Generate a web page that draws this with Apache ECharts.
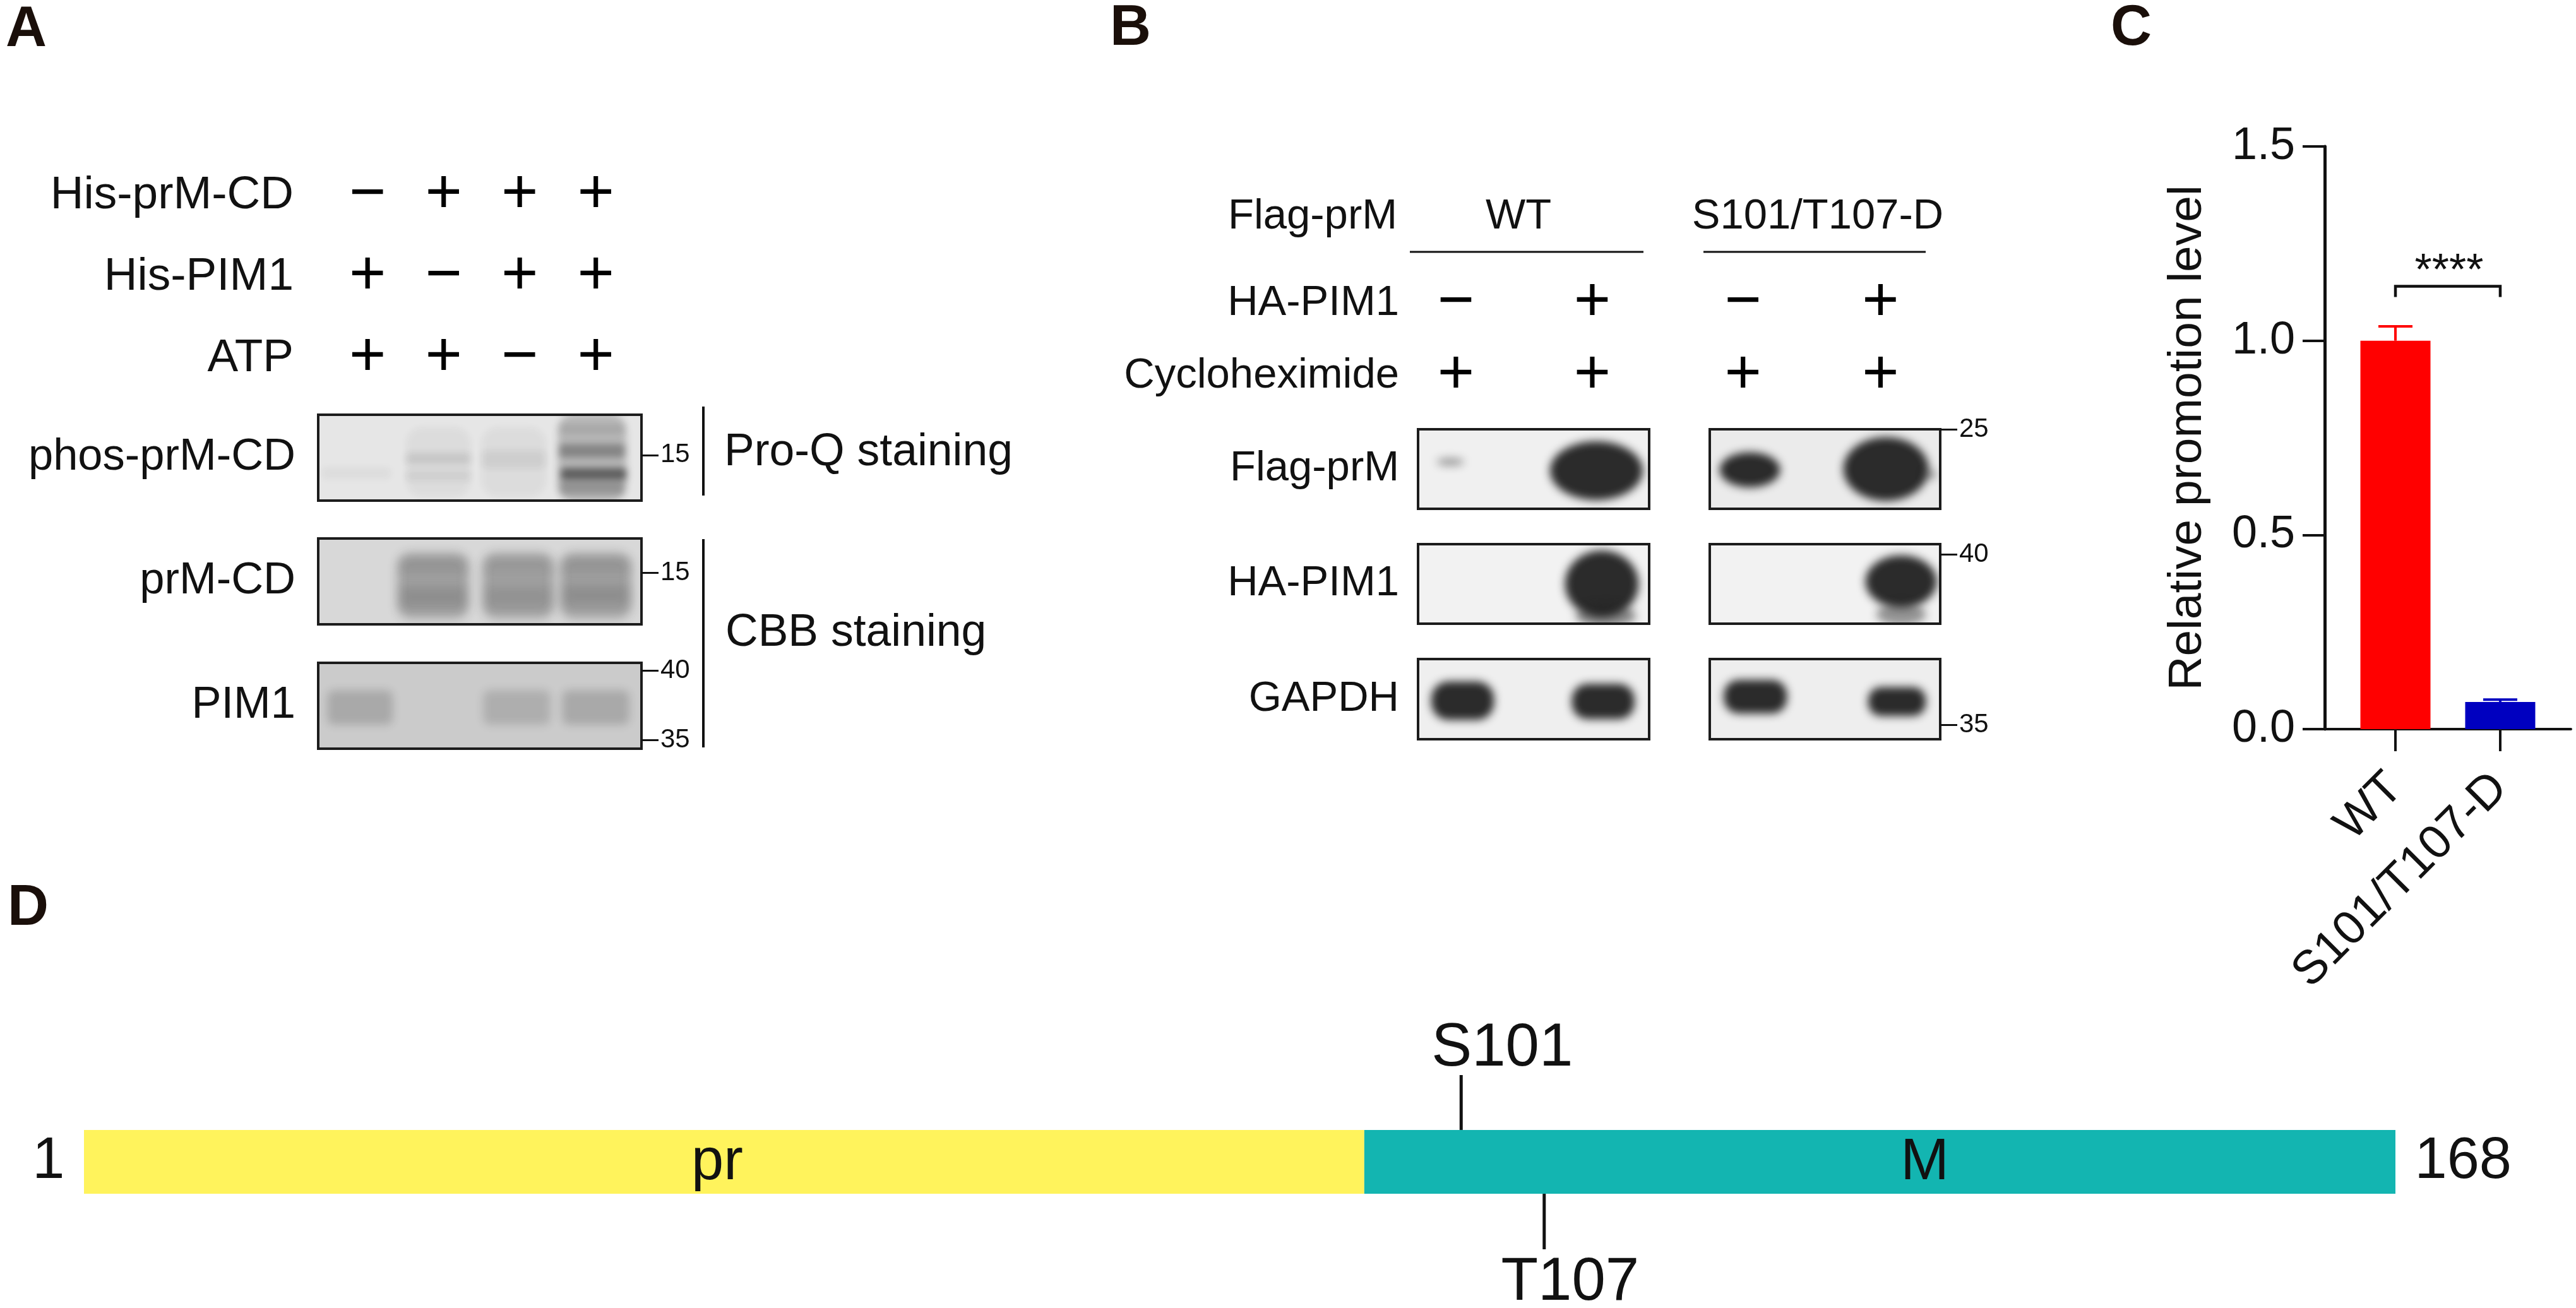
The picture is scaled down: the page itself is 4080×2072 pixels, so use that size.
<!DOCTYPE html>
<html><head><meta charset="utf-8">
<style>html,body{margin:0;padding:0;background:#fff}#c{width:4080px;height:2072px}</style>
<script src="https://cdn.jsdelivr.net/npm/echarts@6/dist/echarts.min.js"></script>
</head><body><div id="c"></div>
<script>
// ---------- data ----------
// Panel A: conditions
const condARows = ['His-prM-CD', 'His-PIM1', 'ATP'];
const condASigns = [['−','+','+','+'], ['+','−','+','+'], ['+','+','−','+']];
// Panel B: conditions
const condBRows = ['HA-PIM1', 'Cycloheximide'];
const condBWT = [['−','+'], ['+','+']];
const condBMut = [['−','+'], ['+','+']];
const groupB = ['WT', 'S101/T107-D'];
// Blot bands: lane, migration (0-100), half-width (lanes), half-height (migration), intensity
const bandsPhos = [
  [-0.15,68,0.45,6,0.05],
  [0.93,55,0.42,40,0.05],[0.93,51,0.42,6,0.12],[0.93,71,0.42,5,0.08],
  [1.92,55,0.42,40,0.05],[1.92,52,0.42,10,0.07],
  [2.95,50,0.45,52,0.22],[2.95,17,0.42,6,0.12],[2.95,42,0.43,8,0.35],[2.97,69,0.43,7,0.6],[2.95,85,0.42,8,0.25]
];
const bandsPrM = [
  [0.86,55,0.47,38,0.3],[1.98,55,0.47,38,0.3],[3.0,55,0.47,38,0.3],
  [0.86,32,0.43,9,0.09],[1.98,32,0.43,9,0.06],[3.0,32,0.43,9,0.09],
  [0.86,68,0.43,12,0.14],[1.98,68,0.43,12,0.11],[3.0,66,0.43,12,0.14]
];
const bandsPim = [
  [-0.1,52,0.43,20,0.2],[1.96,52,0.44,20,0.17],[3.0,52,0.44,20,0.2]
];
const bandsFlagWT = [[-0.04,41,0.1,5,0.4],[1.03,52,0.34,37,0.96]];
const bandsFlagMut = [[0.05,51,0.22,22,0.96],[1.04,50,0.31,40,0.96],[1.36,57,0.05,5,0.4]];
const bandsHaWT = [[1.07,50,0.27,42,0.96],[1.1,90,0.22,14,0.5]];
const bandsHaMut = [[1.15,47,0.26,33,0.96],[1.15,88,0.18,14,0.45]];
const bandsGapdhWT = [[0.05,52,0.23,24,0.96],[1.08,53,0.23,22,0.96]];
const bandsGapdhMut = [[0.09,47,0.23,21,0.96],[1.12,53,0.21,18,0.96]];
// Molecular-weight markers
const mwPhos = [[47,'15']];
const mwPrM = [[40,'15']];
const mwPim = [[9,'40'],[90,'35']];
const mwFlag = [[0,'25']];
const mwHa = [[13,'40']];
const mwGapdh = [[82,'35']];
// Panel C
const barCategories = ['WT', 'S101/T107-D'];
const barValues = [1.0, 0.07];
const barUpper = [1.037, 0.076];
const barColors = ['#ff0000', '#0000c0'];
const sigPair = [[0, 1, 1.14, '****']];
// Panel D
const domainNames = ['pr', 'M'];
const domainStarts = [1, 93.5];
const domainEnds = [93.5, 168];
const domainColors = ['#fff35c', '#13b5b1'];
const domainLabelAt = [46.75, 134];
const endResidues = [1, 168];
const sitePositions = [100.5, 106.5];
const siteNames = ['S101', 'T107'];

// ---------- build ----------
const FONT = '"Liberation Sans", Arial, sans-serif';
const INK = '#111111';
const grid = [], xAxis = [], yAxis = [], series = [];
const OFF = 9000;

function bandRenderer(blur, oval, round) {
  return function (params, api) {
    const c = api.coord([api.value(0), api.value(1)]);
    const s = api.size([api.value(2), api.value(3)]);
    const a = api.value(4);
    const w = s[0], h = s[1];
    const style = { fill: '#000', shadowBlur: blur, shadowOffsetX: OFF, shadowOffsetY: 0, shadowColor: 'rgba(34,34,34,' + a + ')' };
    // the solid shape sits off-canvas: only its blurred shadow lands on the blot
    if (oval) {
      return { type: 'ellipse', silent: true, shape: { cx: c[0] - OFF, cy: c[1], rx: w, ry: h }, style: style };
    }
    return { type: 'rect', silent: true, style: style,
      shape: { x: c[0] - w - OFF, y: c[1] - h, width: w * 2, height: h * 2, r: Math.min(w, h) * round } };
  };
}

// o: blur, oval, round, fs (label size), margin, shift (label nudge)
function addBlot(rect, name, bg, bands, lanes, mw, o) {
  const gi = grid.length, yi = yAxis.length;
  grid.push({ left: rect[0], top: rect[1], width: rect[2] - rect[0], height: rect[3] - rect[1],
    show: true, backgroundColor: bg, borderColor: '#1c1c1c', borderWidth: 4 });
  xAxis.push({ gridIndex: gi, type: 'value', min: lanes[0], max: lanes[1], show: false });
  const xi = xAxis.length - 1;
  yAxis.push({ gridIndex: gi, type: 'category', data: name ? [name] : [''], position: 'left',
    axisLine: { show: false }, axisTick: { show: false }, splitLine: { show: false },
    axisLabel: { show: !!name, margin: o.margin, fontFamily: FONT, fontSize: o.fs, color: INK, padding: [(o.shift || 0) * 2, 0, 0, 0] } });
  const mwMap = {};
  mw.forEach(m => { mwMap[m[0]] = m[1]; });
  yAxis.push({ gridIndex: gi, type: 'value', position: 'right', inverse: true, min: 0, max: 100,
    axisLine: { show: false }, splitLine: { show: false },
    axisTick: { show: mw.length > 0, customValues: mw.map(m => m[0]), length: 27, lineStyle: { color: INK, width: 3 } },
    axisLabel: { show: mw.length > 0, customValues: mw.map(m => m[0]), margin: 30, fontFamily: FONT, fontSize: 42, color: INK,
      showMinLabel: true, showMaxLabel: true, formatter: v => mwMap[v] } });
  series.push({ type: 'custom', xAxisIndex: xi, yAxisIndex: yi + 1, clip: true, silent: true,
    renderItem: bandRenderer(o.blur, o.oval, o.round === undefined ? 0.9 : o.round), data: bands });
}

function addCond(rect, rows, signs, lanes, margin, fs) {
  const gi = grid.length;
  grid.push({ left: rect[0], top: rect[1], width: rect[2] - rect[0], height: rect[3] - rect[1] });
  xAxis.push({ gridIndex: gi, type: 'value', min: lanes[0], max: lanes[1], show: false });
  yAxis.push({ gridIndex: gi, type: 'category', inverse: true, data: rows,
    axisLine: { show: false }, axisTick: { show: false }, splitLine: { show: false },
    axisLabel: { margin: margin, fontFamily: FONT, fontSize: fs, color: INK } });
  const data = [];
  signs.forEach((row, r) => row.forEach((s, l) => data.push({ value: [l, r], sign: s })));
  series.push({ type: 'scatter', xAxisIndex: xAxis.length - 1, yAxisIndex: yAxis.length - 1, symbol: 'circle', symbolSize: 1,
    itemStyle: { color: 'transparent', opacity: 1 }, silent: true, data: data,
    label: { show: true, position: 'inside', formatter: p => p.data.sign, fontFamily: FONT, fontSize: 100, color: '#000' } });
}

// Panel A
const laneA = [-0.65, 3.6];
addCond([504, 245, 1016, 632], condARows, condASigns, laneA, 39, 73);
addBlot([504, 657, 1016, 793], 'phos-prM-CD', '#e6e6e6', bandsPhos, laneA, mwPhos, { blur: 12, round: 0.5, fs: 70.5, margin: 36 });
addBlot([504, 853, 1016, 989], 'prM-CD', '#d8d8d8', bandsPrM, laneA, mwPrM, { blur: 16, round: 0.4, fs: 70.5, margin: 36 });
addBlot([504, 1050, 1016, 1186], 'PIM1', '#cbcbcb', bandsPim, laneA, mwPim, { blur: 14, round: 0.4, fs: 70.5, margin: 36 });

// Panel B
const laneWT = [-0.277, 1.417], laneMut = [-0.242, 1.434];
const rectWT = y => [2246, y[0], 2612, y[1]], rectMut = y => [2708, y[0], 3073, y[1]];
addCond(rectWT([423, 653]), condBRows, condBWT, laneWT, 30, 67);
addCond(rectMut([423, 653]), ['', ''], condBMut, laneMut, 30, 67);
const bFlag = { blur: 14, oval: true, fs: 67, margin: 30, shift: 4 };
const bHa = { blur: 14, oval: true, fs: 67, margin: 30, shift: 9 };
const bGapdh = { blur: 14, fs: 67, margin: 30, shift: 3 };
addBlot(rectWT([680, 806]), 'Flag-prM', '#f0f0f0', bandsFlagWT, laneWT, [], bFlag);
addBlot(rectMut([680, 806]), '', '#ebebeb', bandsFlagMut, laneMut, mwFlag, bFlag);
addBlot(rectWT([862, 988]), 'HA-PIM1', '#f2f2f2', bandsHaWT, laneWT, [], bHa);
addBlot(rectMut([862, 988]), '', '#f2f2f2', bandsHaMut, laneMut, mwHa, bHa);
addBlot(rectWT([1044, 1171]), 'GAPDH', '#efefef', bandsGapdhWT, laneWT, [], bGapdh);
addBlot(rectMut([1044, 1171]), '', '#eeeeee', bandsGapdhMut, laneMut, mwGapdh, bGapdh);

// Panel C
(function () {
  const gi = grid.length;
  grid.push({ left: 3682, top: 232, width: 390, height: 923 });
  xAxis.push({ gridIndex: gi, type: 'value', min: -0.675, max: 1.675, splitLine: { show: false },
    axisLine: { onZero: false, lineStyle: { color: INK, width: 4 } },
    axisTick: { customValues: [0, 1], length: 35, lineStyle: { color: INK, width: 4 } },
    axisLabel: { customValues: [0, 1], rotate: 45, margin: 82, fontFamily: FONT, fontSize: 75, color: INK,
      formatter: v => barCategories[v] } });
  yAxis.push({ gridIndex: gi, type: 'value', min: 0, max: 1.5, interval: 0.5, splitLine: { show: false },
    name: 'Relative promotion level', nameLocation: 'middle', nameGap: 179, nameRotate: 90,
    nameTextStyle: { fontFamily: FONT, fontSize: 75, color: INK },
    axisLine: { show: true, onZero: false, lineStyle: { color: INK, width: 5 } },
    axisTick: { show: true, length: 35, lineStyle: { color: INK, width: 4 } },
    axisLabel: { margin: 47, fontFamily: FONT, fontSize: 72, color: INK, formatter: v => v.toFixed(1) } });
  const xi = xAxis.length - 1, yi = yAxis.length - 1;
  series.push({ type: 'bar', xAxisIndex: xi, yAxisIndex: yi, barWidth: 111, silent: true,
    data: barValues.map((v, i) => ({ value: [i, v], itemStyle: { color: barColors[i] } })) });
  series.push({ type: 'custom', xAxisIndex: xi, yAxisIndex: yi, silent: true, z: 3,
    data: barValues.map((v, i) => [i, v, barUpper[i]]),
    renderItem: (p, api) => {
      const a = api.coord([api.value(0), api.value(1)]), b = api.coord([api.value(0), api.value(2)]);
      const st = { stroke: barColors[p.dataIndex], lineWidth: 4, fill: null };
      return { type: 'group', children: [
        { type: 'line', shape: { x1: a[0], y1: a[1], x2: b[0], y2: b[1] }, style: st },
        { type: 'line', shape: { x1: b[0] - 27, y1: b[1], x2: b[0] + 27, y2: b[1] }, style: st }
      ] };
    } });
  series.push({ type: 'custom', xAxisIndex: xi, yAxisIndex: yi, silent: true, z: 3, data: sigPair,
    renderItem: (p, api) => {
      const a = api.coord([api.value(0), api.value(2)]), b = api.coord([api.value(1), api.value(2)]);
      return { type: 'group', children: [
        { type: 'polyline', shape: { points: [[a[0], a[1] + 17], [a[0], a[1]], [b[0], b[1]], [b[0], b[1] + 17]] },
          style: { stroke: INK, lineWidth: 4.5, fill: null } },
        { type: 'text', style: { text: sigPair[p.dataIndex][3], x: (a[0] + b[0]) / 2 + 2, y: a[1] - 22, fontFamily: FONT, fontSize: 70,
          fill: INK, textAlign: 'center', textVerticalAlign: 'middle' } }
      ] };
    } });
})();

// Panel D
(function () {
  const gi = grid.length;
  grid.push({ left: 133, top: 1703, width: 3661, height: 276 });
  xAxis.push({ gridIndex: gi, type: 'value', min: 1, max: 168, show: false });
  yAxis.push({ gridIndex: gi, type: 'value', min: -0.87, max: 1.86, show: false });
  const xi = xAxis.length - 1, yi = yAxis.length - 1;
  series.push({ type: 'custom', xAxisIndex: xi, yAxisIndex: yi, silent: true,
    data: domainNames.map((n, i) => [domainStarts[i], domainEnds[i], domainLabelAt[i]]),
    renderItem: (p, api) => {
      const a = api.coord([api.value(0), 1]), b = api.coord([api.value(1), 0]), m = api.coord([api.value(2), 0.5]);
      return { type: 'group', children: [
        { type: 'rect', shape: { x: a[0], y: a[1], width: b[0] - a[0], height: b[1] - a[1] }, style: { fill: domainColors[p.dataIndex] } },
        { type: 'text', style: { text: domainNames[p.dataIndex], x: m[0], y: m[1] + 2, fontFamily: FONT, fontSize: 92, fill: INK,
          textAlign: 'center', textVerticalAlign: 'middle' } }
      ] };
    } });
  series.push({ type: 'scatter', xAxisIndex: xi, yAxisIndex: yi, symbol: 'circle', symbolSize: 1, itemStyle: { color: 'transparent', opacity: 1 }, silent: true,
    data: endResidues.map((r, i) => ({ value: [r, 0.5],
      label: { show: true, position: i ? 'right' : 'left', distance: 30, formatter: String(r), fontFamily: FONT, fontSize: 92, color: INK } })) });
  series.push({ type: 'custom', xAxisIndex: xi, yAxisIndex: yi, silent: true, z: 3,
    data: sitePositions.map((r, i) => [r, i]),
    renderItem: (p, api) => {
      const up = api.value(1) === 0;
      const a = api.coord([api.value(0), up ? 1 : 0]), b = api.coord([api.value(0), up ? 1.86 : -0.87]);
      return { type: 'group', children: [
        { type: 'line', shape: { x1: a[0], y1: a[1], x2: b[0], y2: b[1] }, style: { stroke: INK, lineWidth: 5, fill: null } },
        { type: 'text', style: { text: siteNames[p.dataIndex], x: b[0] + (up ? 65 : 41), y: b[1] + (up ? -41 : 54), fontFamily: FONT, fontSize: 96,
          fill: INK, textAlign: 'center', textVerticalAlign: 'middle' } }
      ] };
    } });
})();

// Annotations
function txt(x, y, text, size, align, weight, color) {
  return { type: 'text', silent: true, style: { text: text, x: x, y: y, fontFamily: FONT, fontSize: size, fontWeight: weight || 'normal',
    fill: color || INK, textAlign: align || 'left', textVerticalAlign: 'middle' } };
}
function seg(x1, y1, x2, y2, w) {
  return { type: 'line', silent: true, shape: { x1: x1, y1: y1, x2: x2, y2: y2 }, style: { stroke: INK, lineWidth: w || 4, fill: null } };
}
const graphic = [
  txt(9, 48, 'A', 90, 'left', 'bold', '#1a0f0a'),
  txt(1758, 46, 'B', 90, 'left', 'bold', '#1a0f0a'),
  txt(3343, 46, 'C', 90, 'left', 'bold', '#1a0f0a'),
  txt(12, 1440, 'D', 90, 'left', 'bold', '#1a0f0a'),
  seg(1114, 644, 1114, 785, 4), seg(1114, 854, 1114, 1184, 4),
  txt(1147, 717, 'Pro-Q staining', 71.5),
  txt(1149, 1003, 'CBB staining', 71.5),
  txt(2213, 344, 'Flag-prM', 67, 'right'),
  txt(2405, 344, groupB[0], 67, 'center'),
  txt(2879, 344, groupB[1], 67, 'center'),
  seg(2233, 399, 2603, 399, 3), seg(2698, 399, 3050, 399, 3)
];

const chart = echarts.init(document.getElementById('c'), null, { renderer: 'canvas', width: 4080, height: 2072 });
chart.setOption({ animation: false, backgroundColor: '#ffffff', tooltip: { show: false }, textStyle: { fontFamily: FONT },
  grid: grid, xAxis: xAxis, yAxis: yAxis, series: series, graphic: graphic });
</script></body></html>
